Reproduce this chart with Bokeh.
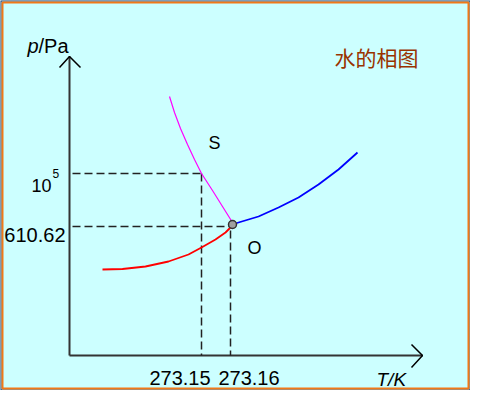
from bokeh.plotting import figure
from bokeh.models import Range1d
from bokeh.core.properties import value
from bokeh.embed import file_html
from bokeh.resources import INLINE

# ---- schematic data (schematic T runs right, schematic p runs up; y axis is flipped) ----
# solid-gas (sublimation) curve, red
sub_T = [102, 122, 145, 168, 188, 201, 215, 225, 232]
sub_p = [269, 268.5, 266, 261, 254, 247, 239, 232, 225]
# solid-liquid (melting) curve, magenta
melt_T = [169, 174, 180, 187, 194, 201, 212, 222, 232]
melt_p = [96, 112, 128, 144, 159, 173, 190, 206, 222]
# liquid-gas (vaporisation) curve, blue
vap_T = [232, 238, 258, 278, 298, 318, 338, 357]
vap_p = [224, 222, 216, 207, 197, 184, 169, 152]
# triple point O
triple_T = [232]
triple_p = [224]
# reference ticks
T_ticks = [201, 230]
T_tick_labels = ["273.15", "273.16"]
p_ticks = [173, 226]
p_tick_labels = ["10", "610.62"]
p_tick_sup = ["5", ""]
# axis geometry (schematic units)
origin_T, origin_p = 69, 355
T_axis_end = 422
p_axis_end = 56

FONT = value("Liberation Sans")

p = figure(width=470, height=390, output_backend="svg", toolbar_location=None,
           x_range=Range1d(0, 470), y_range=Range1d(390, 0),
           x_axis_type=None, y_axis_type=None, min_border=0,
           background_fill_color="#CCFFFF", border_fill_color="#CCFFFF",
           outline_line_color=None)

# frame border (navy outside, orange inside)
p.quad(left=[0], right=[470], top=[0], bottom=[390], fill_alpha=0,
       line_color="#1F3A6E", line_width=2)
p.quad(left=[2], right=[468], top=[2], bottom=[388], fill_alpha=0,
       line_color="#F07818", line_width=2)

# axes with arrows
AX = "#333333"
p.line([origin_T, origin_T], [origin_p, p_axis_end], line_color=AX, line_width=2)
p.line([origin_T, T_axis_end], [origin_p, origin_p], line_color=AX, line_width=2)
p.line([origin_T - 10, origin_T, origin_T + 11], [p_axis_end + 11, p_axis_end, p_axis_end + 11],
       line_color="black", line_width=1.5)
p.line([T_axis_end - 11, T_axis_end, T_axis_end - 11], [origin_p - 11, origin_p, origin_p + 12],
       line_color="black", line_width=1.5)

# dashed guide lines
DASH = dict(line_color="#222222", line_width=1.5, line_dash="8 4")
p.line([origin_T + 3, T_ticks[0]], [p_ticks[0], p_ticks[0]], **DASH)
p.line([T_ticks[0], T_ticks[0]], [p_ticks[0], origin_p], **DASH)
p.line([origin_T + 3, triple_T[0] - 3], [p_ticks[1], p_ticks[1]], **DASH)
p.line([T_ticks[1], T_ticks[1]], [p_ticks[1] + 4, origin_p], **DASH)

# phase boundary curves
p.line(sub_T, sub_p, line_color="#FF0000", line_width=1.8, line_join="round")
p.line(melt_T, melt_p, line_color="#FF00FF", line_width=1.2, line_join="round")
p.line(vap_T, vap_p, line_color="#0000FF", line_width=1.8, line_join="round")

# triple point
p.scatter(triple_T, triple_p, size=8, fill_color="#A0A0A0", line_color="#333333", line_width=1.5)

# tick labels
p.text(x=[(150 + 209) / 2, (219 + 278) / 2], y=[377, 377], text=T_tick_labels,
       text_font=FONT, text_font_size="20px", text_align="center",
       text_baseline="alphabetic", text_color="black")
p.text(x=[51], y=[185], text=[p_tick_labels[0]], text_font=FONT, text_font_size="18px",
       text_align="right", text_baseline="alphabetic", text_color="black")
p.text(x=[52], y=[173], text=[p_tick_sup[0]], text_font=FONT, text_font_size="12px",
       text_align="left", text_baseline="alphabetic", text_color="black")
p.text(x=[65], y=[234], text=[p_tick_labels[1]], text_font=FONT, text_font_size="20px",
       text_align="right", text_baseline="alphabetic", text_color="black")

# axis titles
p.text(x=[27], y=[45], text=["p"], text_font=FONT, text_font_size="20px",
       text_font_style="italic", text_baseline="alphabetic", text_color="black")
p.text(x=[38], y=[45], text=["/Pa"], text_font=FONT, text_font_size="20px",
       text_baseline="alphabetic", text_color="black")
p.text(x=[376], y=[379], text=["T/K"], text_font=FONT, text_font_size="19px",
       text_font_style="italic", text_baseline="alphabetic", text_color="black")

# region / point labels
p.text(x=[208], y=[142], text=["S"], text_font=FONT, text_font_size="18px",
       text_baseline="alphabetic", text_color="black")
p.text(x=[247], y=[247], text=["O"], text_font=FONT, text_font_size="18px",
       text_baseline="alphabetic", text_color="black")

# title
p.text(x=[376], y=[56], text=["水的相图"], text_font=value("Noto Sans CJK SC"),
       text_font_size="21px", text_align="center", text_baseline="middle",
       text_color="#993300")

open("out.html", "w").write(file_html(p, INLINE))
